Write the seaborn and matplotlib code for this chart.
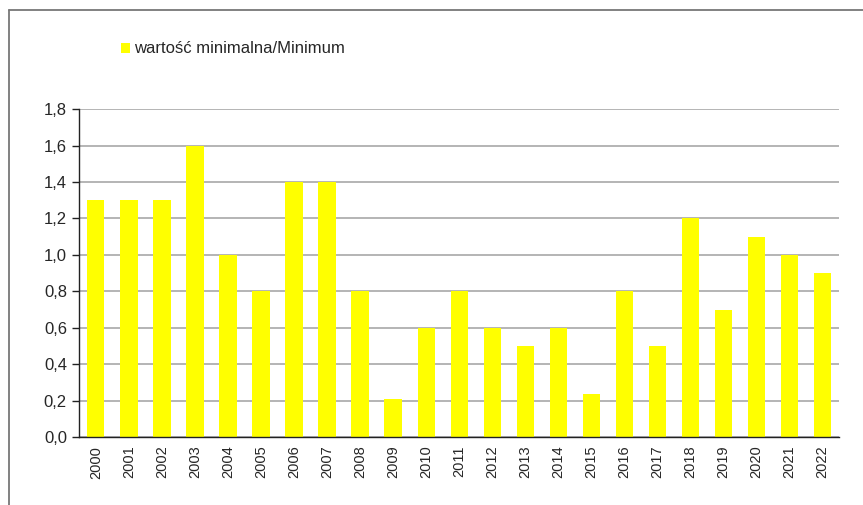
import matplotlib
matplotlib.use("Agg")
import matplotlib.pyplot as plt
import matplotlib.ticker as mticker
from matplotlib.lines import Line2D
from matplotlib.patches import Patch
import pandas as pd
import seaborn as sns

years = [str(y) for y in range(2000, 2023)]
minimum = [1.3, 1.3, 1.3, 1.6, 1.0, 0.8, 1.4, 1.4, 0.8, 0.21, 0.6, 0.8,
           0.6, 0.5, 0.6, 0.24, 0.8, 0.5, 1.2, 0.7, 1.1, 1.0, 0.9]
legend_label = "wartość minimalna/Minimum"

df = pd.DataFrame({"year": years, "value": minimum})

sns.set_style("white")
plt.rcParams["font.family"] = ["Liberation Sans", "DejaVu Sans"]

fig = plt.figure(figsize=(8.63, 5.05), dpi=100)
ax = fig.add_axes([0.092, 0.134, 0.880, 0.650])

sns.barplot(ax=ax, data=df, x="year", y="value", color="#ffff00",
            saturation=1, width=0.52, linewidth=0, edgecolor="none")

ax.set_ylim(0, 1.8)
ax.set_xlim(-0.5, len(years) - 0.5)
ax.yaxis.set_major_locator(mticker.MultipleLocator(0.2))
ax.yaxis.set_major_formatter(mticker.FuncFormatter(lambda v, p: f"{v:.1f}".replace(".", ",")))
ax.yaxis.grid(True, color="#a0a0a0", linewidth=1.1)
ax.set_axisbelow(True)
ax.set_xlabel("")
ax.set_ylabel("")

for s in ["top", "right"]:
    ax.spines[s].set_visible(False)
for s in ["left", "bottom"]:
    ax.spines[s].set_color("#222222")
    ax.spines[s].set_linewidth(1.0)

# x ticks sit between categories
ax.set_xticks([i for i in range(len(years))])
ax.set_xticklabels(years, rotation=90, fontsize=10.5)
ax.set_xticks([i - 0.5 for i in range(len(years) + 1)], minor=True)
ax.tick_params(axis="x", which="major", length=0, pad=6)
ax.tick_params(axis="x", which="minor", length=5, width=1, color="#222222", direction="out")
ax.tick_params(axis="y", length=5, width=1, color="#222222", direction="out", labelsize=12, pad=4)
ax.tick_params(left=True, bottom=True)

handles = [Patch(facecolor="#ffff00", edgecolor="none", label=legend_label)]
fig.legend(handles=handles, loc="center left", bbox_to_anchor=(0.123, 0.903),
           frameon=False, fontsize=12, handlelength=0.55, handleheight=0.55,
           handletextpad=0.2)

# outer frame (top and left edges visible)
fig.add_artist(Line2D([0.0105, 1.0], [0.980, 0.980], transform=fig.transFigure,
                      color="#777777", linewidth=1.3))
fig.add_artist(Line2D([0.0105, 0.0105], [0.0, 0.980], transform=fig.transFigure,
                      color="#777777", linewidth=1.3))

fig.savefig("out.png", dpi=100)
